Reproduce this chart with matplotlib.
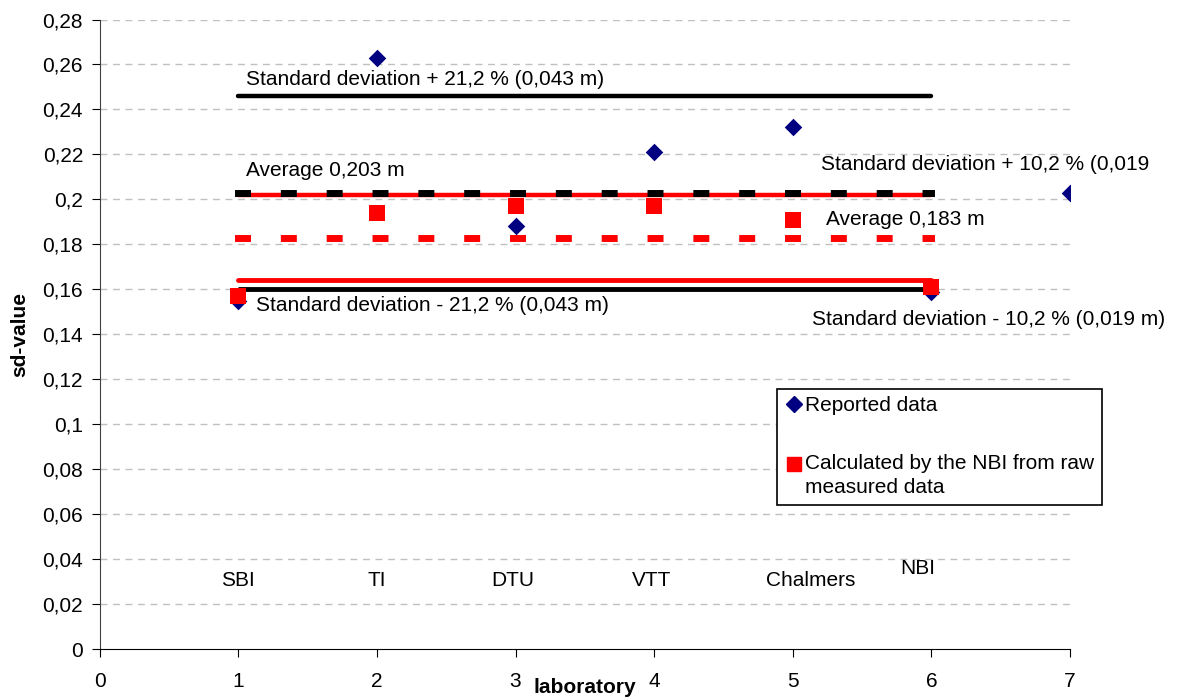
import matplotlib
matplotlib.use("Agg")
import matplotlib.pyplot as plt
from matplotlib.lines import Line2D
from matplotlib.legend_handler import HandlerLine2D

plt.rcParams['font.family'] = ['Liberation Sans', 'DejaVu Sans']

# Data
labs = [1, 2, 3, 4, 5, 6, 7]
reported = [0.155, 0.263, 0.188, 0.221, 0.232, 0.159, 0.203]
calc_x = [1, 2, 3, 4, 5, 6]
calculated = [0.157, 0.194, 0.197, 0.197, 0.191, 0.161]

line_x = [1, 6]
avg_reported = 0.203
sd_plus_reported = 0.246
sd_minus_reported = 0.160
avg_calc = 0.183
sd_plus_calc = 0.2018
sd_minus_calc = 0.1643

lab_names = ["SBI", "TI", "DTU", "VTT", "Chalmers", "NBI"]
lab_name_x = [1.0, 2.0, 2.98, 3.98, 5.13, 5.9]
lab_name_y = [0.0283, 0.0283, 0.0283, 0.0283, 0.0283, 0.0333]

yticks = [i * 0.02 for i in range(15)]
ytick_labels = ["0", "0,02", "0,04", "0,06", "0,08", "0,1", "0,12", "0,14",
                "0,16", "0,18", "0,2", "0,22", "0,24", "0,26", "0,28"]
xticks = [0, 1, 2, 3, 4, 5, 6, 7]


class ShiftedHandler(HandlerLine2D):
    def __init__(self, dy=0.0, **kw):
        super().__init__(**kw)
        self.dy = dy

    def create_artists(self, legend, orig_handle, xdescent, ydescent, width, height, fontsize, trans):
        return super().create_artists(legend, orig_handle, xdescent, ydescent - 2 * self.dy,
                                      width, height, fontsize, trans)


W, H = 1183, 697
fig = plt.figure(figsize=(W / 100, H / 100), dpi=100)
ax = fig.add_axes([99.7 / W, 1 - 649.3 / H, (1070 - 99.7) / W, (649.3 - 19.5) / H])

ax.set_xlim(0, 7)
ax.set_ylim(0, 0.28)

# grid
for yv in yticks[1:]:
    ax.axhline(yv, color='#c0c0c0', lw=1, ls=(0, (5, 4)), zorder=0)

# lines
ax.plot(line_x, [sd_plus_reported] * 2, color='black', lw=3.2, solid_capstyle='round', zorder=2)
ax.plot(line_x, [sd_minus_reported] * 2, color='black', lw=3.5, solid_capstyle='butt', zorder=2)
ax.plot(line_x, [sd_plus_calc] * 2, color='red', lw=3.2, solid_capstyle='round', zorder=2)
ax.plot(line_x, [sd_minus_calc] * 2, color='red', lw=3.5, solid_capstyle='round', zorder=2)
ax.plot(line_x, [avg_reported] * 2, color='black', lw=5.0, ls=(0, (1.3, 5.3)),
        dash_capstyle='projecting', zorder=3)
ax.plot(line_x, [avg_calc] * 2, color='red', lw=5.0, ls=(0, (1.3, 5.3)),
        dash_capstyle='projecting', zorder=3)

# points
ax.scatter(labs, reported, marker='D', s=80, color='#000080', zorder=4, linewidths=0)
ax.scatter(calc_x, calculated, marker='s', s=120, color='#ff0000', zorder=5, linewidths=0)

# annotations
fs = 15
ax.text(1.053, 0.2508, "Standard deviation + 21,2 % (0,043 m)", fontsize=fs, va='baseline', ha='left')
ax.text(1.056, 0.2104, "Average 0,203 m", fontsize=fs, va='baseline', ha='left')
ax.text(5.204, 0.2130, "Standard deviation + 10,2 % (0,019", fontsize=fs, va='baseline', ha='left')
ax.text(5.240, 0.1886, "Average 0,183 m", fontsize=fs, va='baseline', ha='left')
ax.text(1.128, 0.1504, "Standard deviation - 21,2 % (0,043 m)", fontsize=fs, va='baseline', ha='left')
ax.text(5.137, 0.1441, "Standard deviation - 10,2 % (0,019 m)", fontsize=fs, va='baseline', ha='left')

for name, xx, yy in zip(lab_names, lab_name_x, lab_name_y):
    ax.text(xx, yy, name, fontsize=fs, ha='center', va='baseline')

# axes style
ax.spines['top'].set_visible(False)
ax.spines['right'].set_visible(False)
ax.spines['left'].set_color('#404040')
ax.spines['bottom'].set_color('black')
ax.set_yticks(yticks)
ax.set_yticklabels(ytick_labels, fontsize=fs)
ax.set_xticks(xticks)
ax.set_xticklabels([str(v) for v in xticks], fontsize=fs)
ax.tick_params(axis='y', direction='out', length=6, color='black', pad=6)
ax.tick_params(axis='x', direction='out', length=6, color='black', pad=10)
ax.set_xlabel("laboratory", fontsize=fs, fontweight='bold', va='baseline')
ax.xaxis.set_label_coords(0.5, -0.0694)
ax.set_ylabel("sd-value", fontsize=fs, fontweight='bold', va='center')
ax.yaxis.set_label_coords(-0.0822, 0.5)

# legend
h_rep = Line2D([], [], marker='D', color='#000080', ls='none', markersize=8)
h_calc = Line2D([], [], marker='s', color='#ff0000', ls='none', markersize=10)
leg = ax.legend([h_rep, h_calc], ["Reported data", "Calculated by the NBI from raw\nmeasured data"],
                loc='upper left', bbox_to_anchor=(777 / W, 1 - 389 / H),
                bbox_transform=fig.transFigure, fontsize=fs, frameon=True, fancybox=False,
                edgecolor='black', framealpha=1, labelspacing=1.875, handletextpad=0.1,
                handlelength=0.9, borderpad=0.35, borderaxespad=0,
                handler_map={h_calc: ShiftedHandler(dy=8.5)})
leg.get_frame().set_linewidth(1.2)
for t in leg.get_texts():
    t.set_linespacing(1.33)

fig.savefig("out.png", dpi=100)
